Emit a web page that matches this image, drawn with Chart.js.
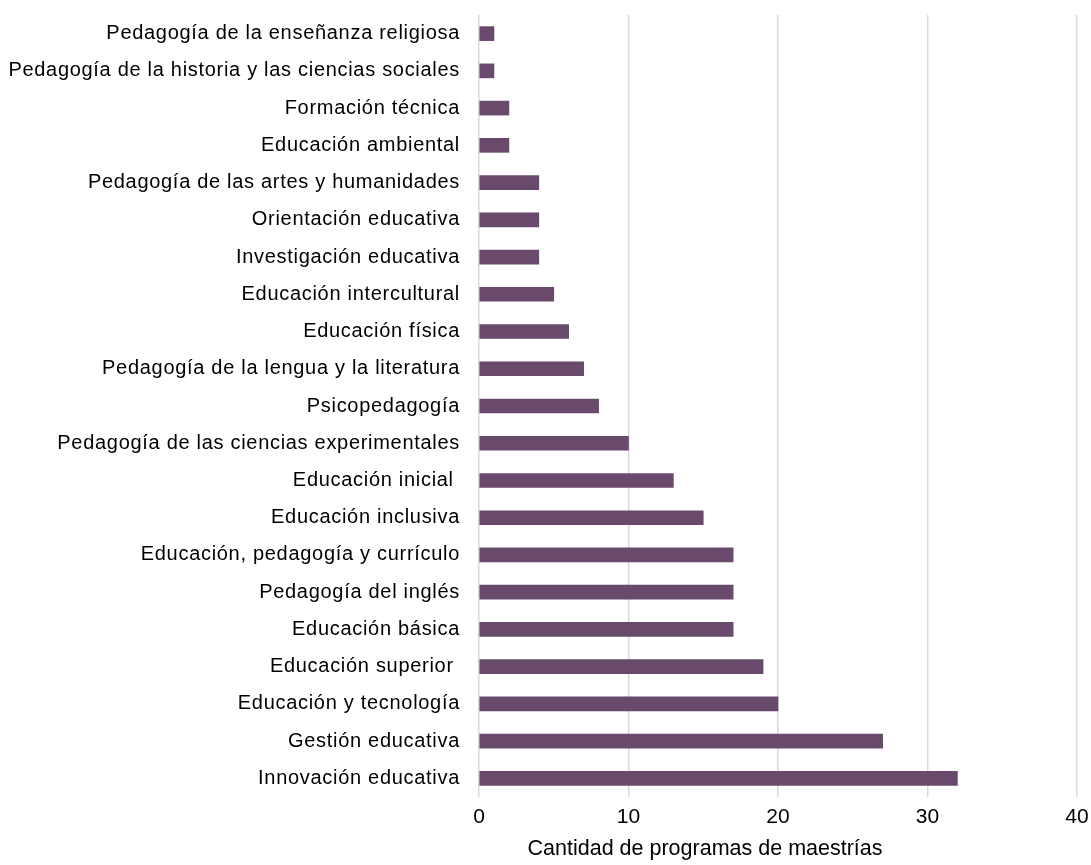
<!DOCTYPE html>
<html>
<head>
<meta charset="utf-8">
<script src="https://cdn.jsdelivr.net/npm/chart.js@4/dist/chart.umd.min.js"></script>
<style>
  html,body{margin:0;padding:0;background:#fff;}
  #wrap{width:1091px;height:865px;position:relative;}
</style>
</head>
<body>
<div id="wrap"><canvas id="grafico" width="1091" height="865"></canvas></div>
<script>
/* datos */
const categorias = [
  'Pedagogía de la enseñanza religiosa',
  'Pedagogía de la historia y las ciencias sociales',
  'Formación técnica',
  'Educación ambiental',
  'Pedagogía de las artes y humanidades',
  'Orientación educativa',
  'Investigación educativa',
  'Educación intercultural',
  'Educación física',
  'Pedagogía de la lengua y la literatura',
  'Psicopedagogía',
  'Pedagogía de las ciencias experimentales',
  'Educación inicial ',
  'Educación inclusiva',
  'Educación, pedagogía y currículo',
  'Pedagogía del inglés',
  'Educación básica',
  'Educación superior ',
  'Educación y tecnología',
  'Gestión educativa',
  'Innovación educativa'
];
const cantidades = [1,1,2,2,4,4,4,5,6,7,8,10,13,15,17,17,17,19,20,27,32];
const ticksX = [0,10,20,30,40];
const tituloX = 'Cantidad de programas de maestrías';

const FUENTE = "'Liberation Sans', Arial, sans-serif";

// eje de categorías con un poco de espaciado entre letras (como en el original)
class CategoriaEspaciada extends Chart.CategoryScale {
  drawLabels(area){
    const ctx=this.ctx;
    ctx.save();
    ctx.letterSpacing='0.7px';
    super.drawLabels(area);
    ctx.restore();
  }
}
CategoriaEspaciada.id='categoriaEspaciada';
CategoriaEspaciada.defaults=Chart.CategoryScale.defaults;
Chart.register(CategoriaEspaciada);

// título del eje x, algo corrido a la izquierda como en el original
const tituloEje = {
  id:'tituloEje',
  afterDraw(chart){
    const {ctx,chartArea}=chart;
    ctx.save();
    ctx.font='21.5px '+FUENTE;
    ctx.fillStyle='#000';
    ctx.textAlign='center';
    ctx.textBaseline='middle';
    ctx.fillText(tituloX, chartArea.left+(chartArea.right-chartArea.left)*0.378, 849);
    ctx.restore();
  }
};

new Chart(document.getElementById('grafico'),{
  type:'bar',
  data:{
    labels:categorias,
    datasets:[{
      data:cantidades,
      backgroundColor:'#694a6d',
      borderWidth:0,
      barThickness:14
    }]
  },
  options:{
    indexAxis:'y',
    responsive:false,
    animation:false,
    layout:{padding:{top:15,right:14,bottom:0,left:0}},
    plugins:{legend:{display:false},tooltip:{enabled:false}},
    scales:{
      x:{
        min:0,max:40,
        afterBuildTicks:(s)=>{ s.ticks = ticksX.map(v=>({value:v})); },
        grid:{color:'#d9d9d9',lineWidth:1.5,drawTicks:false},
        border:{display:false},
        ticks:{color:'#000',font:{family:FUENTE,size:21},padding:8},
        afterFit:(s)=>{ s.height = 68; s.paddingLeft = 0; s.paddingRight = 0; }
      },
      y:{
        type:'categoriaEspaciada',
        grid:{display:false},
        border:{display:false},
        ticks:{color:'#000',font:{family:FUENTE,size:20},padding:11,autoSkip:false},
        afterFit:(s)=>{ s.width = 479; s.paddingTop = 0; s.paddingBottom = 0; }
      }
    }
  },
  plugins:[tituloEje]
});
</script>
</body>
</html>
